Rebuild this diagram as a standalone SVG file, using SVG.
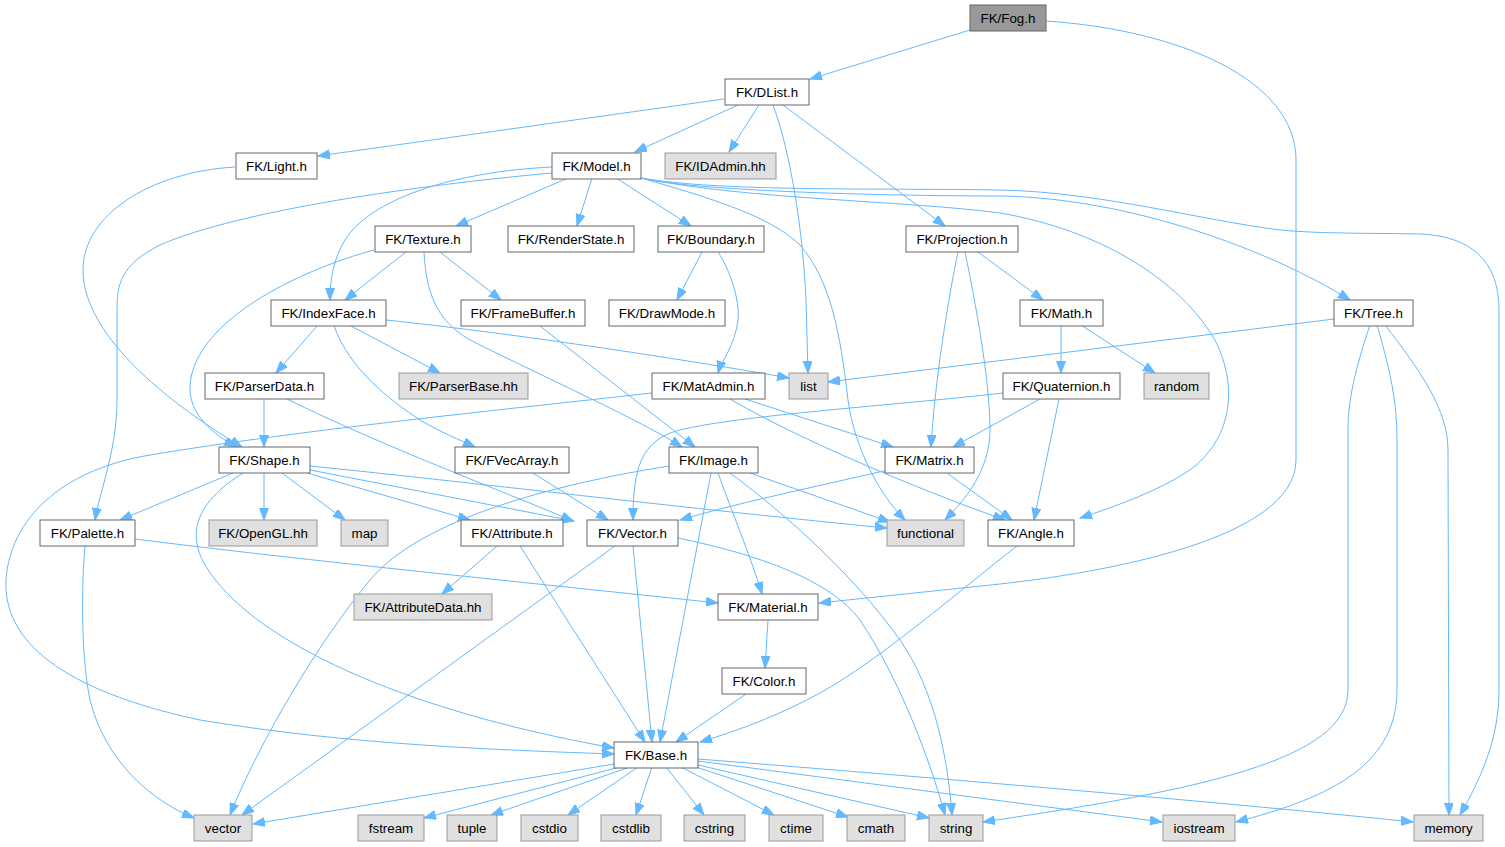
<svg xmlns="http://www.w3.org/2000/svg" width="1505" height="847" viewBox="0 0 1505 847">
<style>
.n rect{fill:#ffffff;stroke:#666666;stroke-width:1}
.g rect{fill:#e0e0e0;stroke:#999999;stroke-width:1}
.r rect{fill:#999999;stroke:#666666;stroke-width:1}
text{font-family:"Liberation Sans",Arial,Helvetica,sans-serif;font-size:13.33px;text-anchor:middle;fill:#000000}
#edges path{fill:none;stroke:#63b8ff;stroke-width:1;marker-end:url(#arr)}
</style>
<defs>
<marker id="arr" markerUnits="userSpaceOnUse" markerWidth="13" markerHeight="10" refX="12" refY="4.5" orient="auto">
<path d="M0,0 L12,4.5 L0,9 z" fill="#63b8ff" stroke="#63b8ff" stroke-width="1"/>
</marker>
</defs>
<rect x="0" y="0" width="1505" height="847" fill="#ffffff"/>
<g id="edges">
<path d="M970,30 L810,79"/>
<path d="M1046,21 C1180,30 1296,80 1296,160 L1296,460 C1296,540 1100,573 1000,584 L819,603"/>
<path d="M724,99 L318,156"/>
<path d="M738,105 L635,152"/>
<path d="M759,105 L729,152"/>
<path d="M773,105 C790,150 803,230 806,300 L808,373"/>
<path d="M783,105 L945,226"/>
<path d="M235,167 C150,172 83,215 83,270 C83,340 180,410 242,447"/>
<path d="M568,178 L456,226"/>
<path d="M592,178 L577,226"/>
<path d="M616,178 L691,226"/>
<path d="M552,167 C450,172 370,200 345,240 C333,260 330,280 330,300"/>
<path d="M552,173 C420,185 240,210 160,245 C120,265 117,285 117,310 L117,400 C117,450 100,490 95,520"/>
<path d="M641,178 C700,195 770,215 800,245 C830,280 840,330 848,400 C855,450 880,495 905,520"/>
<path d="M641,178 C750,200 900,200 1000,213 C1100,230 1180,280 1215,340 C1240,390 1230,440 1190,470 C1160,490 1120,505 1080,518"/>
<path d="M641,178 C700,192 900,196 1000,196 C1130,198 1270,250 1350,300"/>
<path d="M641,178 C720,192 880,188 1000,190 C1100,192 1200,220 1280,230 C1320,234 1380,233 1420,234 C1470,236 1499,260 1499,310 L1499,690 C1499,740 1480,780 1460,815"/>
<path d="M406,252 L345,300"/>
<path d="M440,252 L501,300"/>
<path d="M374,250 C300,270 195,320 190,385 C188,415 215,435 236,447"/>
<path d="M424,252 C426,290 435,320 470,340 C550,380 640,420 682,447"/>
<path d="M702,252 L677,300"/>
<path d="M718,252 C730,270 740,300 738,320 C735,345 722,360 718,373"/>
<path d="M978,252 L1043,300"/>
<path d="M958,252 C948,300 935,380 931,447"/>
<path d="M965,252 C975,300 990,380 990,430 C990,470 965,500 945,520"/>
<path d="M1061,325 L1061,373"/>
<path d="M1081,325 L1155,373"/>
<path d="M1334,319 L828,382"/>
<path d="M1370,325 C1355,370 1348,400 1348,430 L1348,690 C1348,760 1200,790 983,822"/>
<path d="M1377,325 C1390,370 1397,400 1397,440 L1397,690 C1397,770 1320,800 1236,822"/>
<path d="M1385,325 C1420,370 1448,410 1448,450 L1449,815"/>
<path d="M1040,399 L953,447"/>
<path d="M1059,399 L1034,520"/>
<path d="M1003,393 C900,405 740,415 680,430 C640,440 633,470 633,520"/>
<path d="M317,326 L276,373"/>
<path d="M351,326 L440,373"/>
<path d="M334,326 C350,370 390,400 420,420 C440,432 460,440 475,447"/>
<path d="M386,320 C520,334 700,362 789,378"/>
<path d="M264,399 L264,447"/>
<path d="M287,399 C380,445 500,490 573,521"/>
<path d="M540,326 L695,447"/>
<path d="M652,393 C500,410 300,430 150,455 C60,470 10,520 6,580 C3,640 60,690 200,720 C350,745 500,750 614,754"/>
<path d="M745,399 L893,447"/>
<path d="M730,399 C800,440 920,490 1005,520"/>
<path d="M233,473 L120,520"/>
<path d="M264,473 L264,520"/>
<path d="M282,473 L345,520"/>
<path d="M307,473 L470,520"/>
<path d="M310,470 L574,521"/>
<path d="M310,466 C450,480 700,510 887,528"/>
<path d="M243,473 C200,500 185,530 205,565 C250,640 400,710 614,748"/>
<path d="M533,473 L608,520"/>
<path d="M669,466 C550,485 420,520 370,580 C320,640 260,740 230,815"/>
<path d="M750,473 L890,522"/>
<path d="M711,473 L660,742"/>
<path d="M718,473 C735,520 750,555 762,594"/>
<path d="M730,473 C780,510 850,570 900,640 C935,690 948,760 952,815"/>
<path d="M888,470 C800,490 730,505 680,520"/>
<path d="M947,473 L1012,520"/>
<path d="M135,539 C300,560 550,585 718,603"/>
<path d="M85,546 C82,580 80,650 90,700 C105,760 150,800 194,818"/>
<path d="M497,546 L442,594"/>
<path d="M520,546 L645,742"/>
<path d="M633,546 L652,742"/>
<path d="M615,546 L242,815"/>
<path d="M678,538 C760,555 830,580 860,620 C900,680 930,760 945,815"/>
<path d="M1017,546 C960,590 880,660 820,693 C780,715 740,730 700,742"/>
<path d="M768,620 L765,668"/>
<path d="M746,694 L676,742"/>
<path d="M614,764 L253,824"/>
<path d="M620,767 L424,818"/>
<path d="M630,767 L491,815"/>
<path d="M638,767 L568,815"/>
<path d="M652,767 L636,815"/>
<path d="M666,767 L704,815"/>
<path d="M681,767 L774,815"/>
<path d="M693,766 L848,817"/>
<path d="M698,765 L929,818"/>
<path d="M698,761 L1162,822"/>
<path d="M698,759 C900,775 1200,800 1413,822"/>
</g>
<g id="fog" class="r"><rect x="970" y="5" width="76" height="26"/><text x="1008" y="23">FK/Fog.h</text></g>
<g id="dlist" class="n"><rect x="725" y="79" width="84" height="26"/><text x="767" y="97">FK/DList.h</text></g>
<g id="light" class="n"><rect x="236" y="153" width="81" height="26"/><text x="276.5" y="171">FK/Light.h</text></g>
<g id="model" class="n"><rect x="552" y="153" width="89" height="26"/><text x="596.5" y="171">FK/Model.h</text></g>
<g id="idadmin" class="g"><rect x="665" y="153" width="111" height="26"/><text x="720.5" y="171">FK/IDAdmin.hh</text></g>
<g id="texture" class="n"><rect x="375" y="226" width="96" height="26"/><text x="423" y="244">FK/Texture.h</text></g>
<g id="renderstate" class="n"><rect x="508" y="226" width="126" height="26"/><text x="571" y="244">FK/RenderState.h</text></g>
<g id="boundary" class="n"><rect x="658" y="226" width="106" height="26"/><text x="711" y="244">FK/Boundary.h</text></g>
<g id="projection" class="n"><rect x="906" y="226" width="112" height="26"/><text x="962" y="244">FK/Projection.h</text></g>
<g id="tree" class="n"><rect x="1334" y="300" width="79" height="26"/><text x="1373.5" y="318">FK/Tree.h</text></g>
<g id="indexface" class="n"><rect x="271" y="300" width="115" height="26"/><text x="328.5" y="318">FK/IndexFace.h</text></g>
<g id="framebuffer" class="n"><rect x="461" y="300" width="124" height="26"/><text x="523" y="318">FK/FrameBuffer.h</text></g>
<g id="drawmode" class="n"><rect x="609" y="300" width="116" height="26"/><text x="667" y="318">FK/DrawMode.h</text></g>
<g id="math" class="n"><rect x="1020" y="300" width="83" height="26"/><text x="1061.5" y="318">FK/Math.h</text></g>
<g id="parserdata" class="n"><rect x="205" y="373" width="119" height="26"/><text x="264.5" y="391">FK/ParserData.h</text></g>
<g id="parserbase" class="g"><rect x="399" y="373" width="129" height="26"/><text x="463.5" y="391">FK/ParserBase.hh</text></g>
<g id="matadmin" class="n"><rect x="652" y="373" width="113" height="26"/><text x="708.5" y="391">FK/MatAdmin.h</text></g>
<g id="list" class="g"><rect x="789" y="373" width="39" height="26"/><text x="808.5" y="391">list</text></g>
<g id="quaternion" class="n"><rect x="1003" y="373" width="117" height="26"/><text x="1061.5" y="391">FK/Quaternion.h</text></g>
<g id="random" class="g"><rect x="1144" y="373" width="65" height="26"/><text x="1176.5" y="391">random</text></g>
<g id="shape" class="n"><rect x="219" y="447" width="91" height="26"/><text x="264.5" y="465">FK/Shape.h</text></g>
<g id="fvecarray" class="n"><rect x="455" y="447" width="114" height="26"/><text x="512" y="465">FK/FVecArray.h</text></g>
<g id="image" class="n"><rect x="669" y="447" width="89" height="26"/><text x="713.5" y="465">FK/Image.h</text></g>
<g id="matrix" class="n"><rect x="885" y="447" width="89" height="26"/><text x="929.5" y="465">FK/Matrix.h</text></g>
<g id="palette" class="n"><rect x="40" y="520" width="95" height="26"/><text x="87.5" y="538">FK/Palette.h</text></g>
<g id="opengl" class="g"><rect x="209" y="520" width="108" height="26"/><text x="263" y="538">FK/OpenGL.hh</text></g>
<g id="map" class="g"><rect x="341" y="520" width="47" height="26"/><text x="364.5" y="538">map</text></g>
<g id="attribute" class="n"><rect x="461" y="520" width="102" height="26"/><text x="512" y="538">FK/Attribute.h</text></g>
<g id="vector_h" class="n"><rect x="587" y="520" width="91" height="26"/><text x="632.5" y="538">FK/Vector.h</text></g>
<g id="functional" class="g"><rect x="887" y="520" width="77" height="26"/><text x="925.5" y="538">functional</text></g>
<g id="angle" class="n"><rect x="988" y="520" width="86" height="26"/><text x="1031" y="538">FK/Angle.h</text></g>
<g id="attributedata" class="g"><rect x="354" y="594" width="138" height="26"/><text x="423" y="612">FK/AttributeData.hh</text></g>
<g id="material" class="n"><rect x="718" y="594" width="100" height="26"/><text x="768" y="612">FK/Material.h</text></g>
<g id="color" class="n"><rect x="722" y="668" width="84" height="26"/><text x="764" y="686">FK/Color.h</text></g>
<g id="base" class="n"><rect x="614" y="742" width="84" height="26"/><text x="656" y="760">FK/Base.h</text></g>
<g id="vector" class="g"><rect x="194" y="815" width="58" height="26"/><text x="223" y="833">vector</text></g>
<g id="fstream" class="g"><rect x="358" y="815" width="66" height="26"/><text x="391" y="833">fstream</text></g>
<g id="tuple" class="g"><rect x="447" y="815" width="50" height="26"/><text x="472" y="833">tuple</text></g>
<g id="cstdio" class="g"><rect x="521" y="815" width="57" height="26"/><text x="549.5" y="833">cstdio</text></g>
<g id="cstdlib" class="g"><rect x="601" y="815" width="60" height="26"/><text x="631" y="833">cstdlib</text></g>
<g id="cstring" class="g"><rect x="684" y="815" width="61" height="26"/><text x="714.5" y="833">cstring</text></g>
<g id="ctime" class="g"><rect x="769" y="815" width="54" height="26"/><text x="796" y="833">ctime</text></g>
<g id="cmath" class="g"><rect x="847" y="815" width="58" height="26"/><text x="876" y="833">cmath</text></g>
<g id="string" class="g"><rect x="929" y="815" width="54" height="26"/><text x="956" y="833">string</text></g>
<g id="iostream" class="g"><rect x="1163" y="815" width="72" height="26"/><text x="1199" y="833">iostream</text></g>
<g id="memory" class="g"><rect x="1414" y="815" width="69" height="26"/><text x="1448.5" y="833">memory</text></g>
</svg>
